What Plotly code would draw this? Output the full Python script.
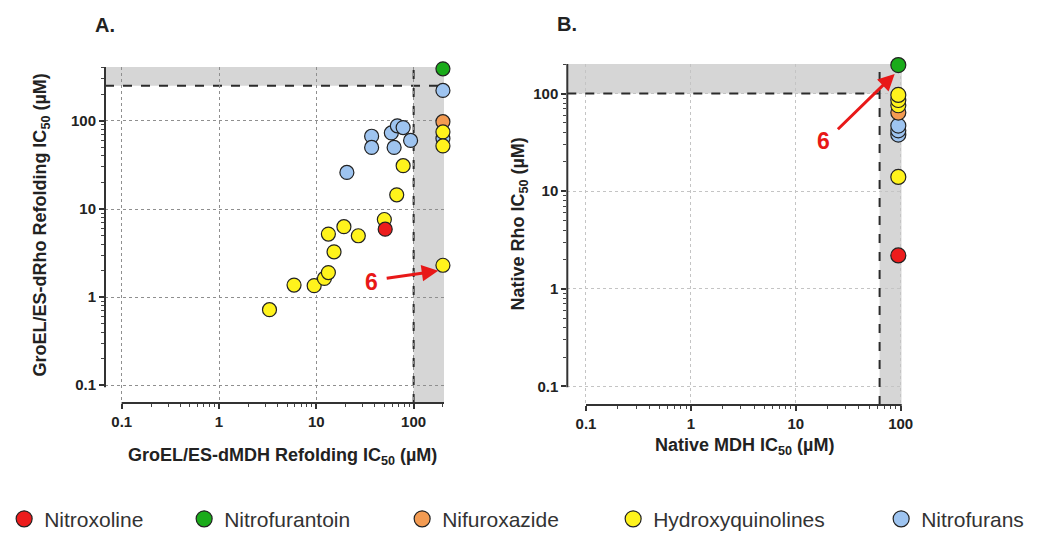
import numpy as np
import plotly.graph_objects as go

W, H = 1037, 540

# ---------------- data ----------------
groups = ["Nitroxoline", "Nitrofurantoin", "Nifuroxazide", "Hydroxyquinolines", "Nitrofurans"]
colors = {"Nitroxoline": "#ec1c1c", "Nitrofurantoin": "#1aab1a", "Nifuroxazide": "#f39b52",
          "Hydroxyquinolines": "#fff31c", "Nitrofurans": "#9ec4f0"}

# Panel A: GroEL/ES-dMDH refolding IC50 (x) vs GroEL/ES-dRho refolding IC50 (y)
a_x = {
    "Nitrofurans": [20.6, 37, 37, 59, 63, 68, 78, 93, 200, 200],
    "Nifuroxazide": [200],
    "Hydroxyquinolines": [3.3, 5.9, 9.5, 12.1, 13.3, 13.3, 15.2, 19.2, 27, 50, 67, 78, 200, 200, 200],
    "Nitroxoline": [51],
    "Nitrofurantoin": [200],
}
a_y = {
    "Nitrofurans": [26, 67, 50, 73, 50, 88, 84, 60, 222, 63],
    "Nifuroxazide": [98],
    "Hydroxyquinolines": [0.72, 1.37, 1.35, 1.63, 1.9, 5.2, 3.27, 6.3, 4.97, 7.6, 14.5, 31, 75, 52, 2.3],
    "Nitroxoline": [5.9],
    "Nitrofurantoin": [390],
}
# Panel B: native MDH IC50 (x) vs native Rho IC50 (y)
b_x = {
    "Nitrofurans": [95, 95, 95],
    "Nifuroxazide": [95],
    "Hydroxyquinolines": [95, 95, 95, 95],
    "Nitroxoline": [95],
    "Nitrofurantoin": [95],
}
b_y = {
    "Nitrofurans": [38, 42, 47],
    "Nifuroxazide": [64],
    "Hydroxyquinolines": [14, 76, 86, 97],
    "Nitroxoline": [2.2],
    "Nitrofurantoin": [196],
}
draw_order = ["Nitrofurans", "Nifuroxazide", "Hydroxyquinolines", "Nitroxoline", "Nitrofurantoin"]

tick_vals = [0.1, 1, 10, 100]
tick_text = ["0.1", "1", "10", "100"]
minor_vals = [m * 10.0 ** k for k in (-1, 0, 1, 2) for m in range(2, 10)]

# thresholds / cutoffs
A_X_CUT, A_Y_CUT = 100, 250
B_X_CUT, B_Y_CUT = 63, 100

# arrows for compound 6: (tail, head) and label
A_ARROW = ((51, 1.63), (179, 1.99)); A_LABEL = (37, 1.47)
B_ARROW = ((24.4, 41.7), (87.7, 159)); B_LABEL = (18.2, 32.5)

# ---------------- geometry ----------------
A_XR, A_YR = [-1.172, 2.312], [-1.201, 2.612]
B_XR, B_YR = [-1.178, 2.010], [-1.189, 2.303]
A_DX = [105 / W, 444 / W]; A_DY = [(H - 409) / H, (H - 68) / H]
B_DX = [567.3 / W, 901.7 / W]; B_DY = [(H - 411) / H, (H - 65) / H]

FONT = "Liberation Sans, Arial, sans-serif"

fig = go.Figure()

for g in draw_order:
    fig.add_trace(go.Scatter(
        x=a_x[g], y=a_y[g], mode="markers", name=g, legendgroup=g,
        marker=dict(size=14, color=colors[g], line=dict(color="#222", width=1.2)),
        xaxis="x", yaxis="y", cliponaxis=False, showlegend=False))
for g in draw_order:
    fig.add_trace(go.Scatter(
        x=b_x[g], y=b_y[g], mode="markers", name=g, legendgroup=g,
        marker=dict(size=15, color=colors[g], line=dict(color="#222", width=1.2)),
        xaxis="x2", yaxis="y2", cliponaxis=False, showlegend=False))

# legend entries (in legend order)
legend_widths = {"Nitroxoline": 135, "Nitrofurantoin": 173, "Nifuroxazide": 166,
                 "Hydroxyquinolines": 223, "Nitrofurans": 104}
for g in groups:
    fig.add_trace(go.Scatter(
        x=[None], y=[None], mode="markers", name=g, legendgroup=g,
        marker=dict(size=16, color=colors[g], line=dict(color="#222", width=1.2)),
        xaxis="x", yaxis="y", showlegend=True, legendwidth=legend_widths[g]))

def axis(rng, dom, anchor, gridcolor):
    return dict(type="log", range=rng, domain=dom, anchor=anchor,
                tickvals=tick_vals, ticktext=tick_text, ticks="outside", ticklen=5,
                tickwidth=1.5, tickcolor="#333",
                tickfont=dict(family=FONT, size=15, color="#222", weight="bold"),
                showgrid=True, gridcolor=gridcolor, griddash="dot", gridwidth=1,
                zeroline=False, showline=False, automargin=False,
                minor=dict(tickvals=minor_vals, ticks="outside", ticklen=3,
                           tickcolor="#444", tickwidth=1, showgrid=False))

fig.update_layout(
    width=W, height=H, template="none",
    margin=dict(l=0, r=0, t=0, b=0),
    paper_bgcolor="white", plot_bgcolor="white",
    font=dict(family=FONT),
    xaxis=axis(A_XR, A_DX, "y", "#8f8f8f"),
    yaxis=axis(A_YR, A_DY, "x", "#8f8f8f"),
    xaxis2=axis(B_XR, B_DX, "y2", "#c4c4c4"),
    yaxis2=axis(B_YR, B_DY, "x2", "#c4c4c4"),
    showlegend=True,
    legend=dict(orientation="h", x=0.004, xanchor="left", y=(H - 527) / H, yanchor="middle",
                font=dict(family=FONT, size=21, color="#333"), bgcolor="rgba(0,0,0,0)",
                itemsizing="trace", borderwidth=0),
)

GREY = "#d6d6d6"
DASH = dict(color="#2b2b2b", width=2, dash="dash")
shapes = []
for (xs, ys, xc, yc, xr, yr) in (("x", "y", A_X_CUT, A_Y_CUT, A_XR, A_YR),
                                  ("x2", "y2", B_X_CUT, B_Y_CUT, B_XR, B_YR)):
    # grey bands
    shapes.append(dict(type="rect", xref=xs, yref=ys + " domain", x0=xc, x1=10 ** xr[1], y0=0, y1=1,
                       fillcolor=GREY, line_width=0, layer="below"))
    shapes.append(dict(type="rect", xref=xs + " domain", yref=ys, x0=0, x1=1, y0=yc, y1=10 ** yr[1],
                       fillcolor=GREY, line_width=0, layer="below"))

# dashed cutoffs, panel A (under the markers)
shapes.append(dict(type="line", xref="x", yref="y domain", x0=A_X_CUT, x1=A_X_CUT, y0=0, y1=1,
                   line=DASH, layer="below"))
shapes.append(dict(type="line", xref="x domain", yref="y", x0=0, x1=1, y0=A_Y_CUT, y1=A_Y_CUT,
                   line=DASH, layer="below"))
# dashed cutoffs, panel B (clear of the markers, drawn on top of grid)
shapes.append(dict(type="line", xref="x2", yref="y2 domain", x0=B_X_CUT, x1=B_X_CUT, y0=0, y1=1,
                   line=DASH, layer="above"))
shapes.append(dict(type="line", xref="x2", yref="y2", x0=10 ** B_XR[0], x1=B_X_CUT, y0=B_Y_CUT, y1=B_Y_CUT,
                   line=DASH, layer="above"))

# offset axis lines (GraphPad style)
for xs, ys, gx, gy in (("x", "y", 0.049, 0.047), ("x2", "y2", 0.056, 0.052)):
    shapes.append(dict(type="line", xref=xs + " domain", yref=ys + " domain", x0=0, x1=0, y0=gy, y1=1,
                       line=dict(color="#333", width=2), layer="above"))
    shapes.append(dict(type="line", xref=xs + " domain", yref=ys + " domain", x0=gx, x1=1, y0=0, y1=0,
                       line=dict(color="#333", width=2), layer="above"))
fig.update_layout(shapes=shapes)

anns = []
RED = "#e81818"
for xs, ys, (tail, head), lab in (("x", "y", A_ARROW, A_LABEL), ("x2", "y2", B_ARROW, B_LABEL)):
    anns.append(dict(xref=xs, yref=ys, axref=xs, ayref=ys,
                     x=np.log10(head[0]), y=np.log10(head[1]),
                     ax=np.log10(tail[0]), ay=np.log10(tail[1]),
                     text="", showarrow=True, arrowhead=2, arrowsize=1.1, arrowwidth=3,
                     arrowcolor=RED, standoff=0))
    anns.append(dict(xref=xs, yref=ys, x=np.log10(lab[0]), y=np.log10(lab[1]), text="6",
                     showarrow=False, font=dict(family=FONT, size=23, color=RED, weight="bold")))

def label(text, x, y, size=18, angle=0):
    return dict(xref="paper", yref="paper", x=x / W, y=1 - y / H, text=text, showarrow=False,
                textangle=angle, xanchor="center", yanchor="middle",
                font=dict(family=FONT, size=size, color="#222", weight="bold"))

anns += [
    label("A.", 105, 25, size=20),
    label("B.", 567, 24, size=20),
    label("GroEL/ES-dMDH Refolding IC<sub>50</sub> (µM)", 282, 463),
    label("GroEL/ES-dRho Refolding IC<sub>50</sub> (µM)", 42, 229, angle=-90),
    label("Native MDH IC<sub>50</sub> (µM)", 744, 453),
    label("Native Rho IC<sub>50</sub> (µM)", 520, 228, angle=-90),
]
fig.update_layout(annotations=anns)

fig.write_html("out.html")
